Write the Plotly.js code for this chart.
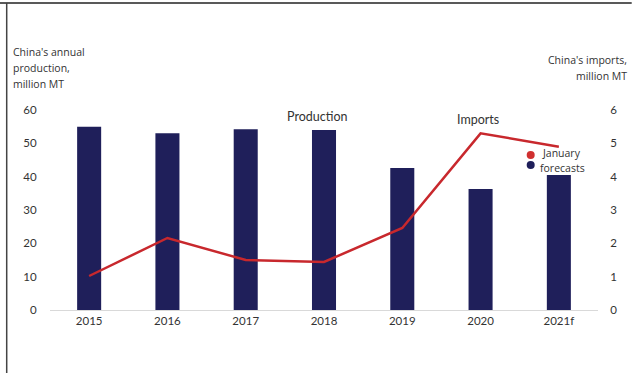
<!DOCTYPE html>
<html><head><meta charset="utf-8">
<script src="https://cdn.plot.ly/plotly-3.0.1.min.js"></script>
<style>html,body{margin:0;padding:0;background:#fff;}#chart{width:632px;height:373px;}</style>
</head><body><div id="chart"></div>
<script>
const years = ["2015","2016","2017","2018","2019","2020","2021f"];
const production = [55, 53, 54.2, 54, 42.6, 36.3, 40.5];
const imports = [1.02, 2.16, 1.5, 1.44, 2.46, 5.3, 4.9];
const leftTicks = [0,10,20,30,40,50,60];
const rightTicks = [0,1,2,3,4,5,6];
const leftTitle = ["China's annual", "production,", "million MT"];
const rightTitle = ["China's imports,", "million MT"];

const font = {family: "Lato, 'Open Sans', sans-serif", size: 11.5, color: "#333"};
const tfont = {family: "'Open Sans', sans-serif", size: 10.5, color: "#333"};
// plot area in pixels
const L = 50.3, R = 598.3, T = 110, B = 310;
const px = x => (x - L) / (R - L);
const py = y => (B - y) / (B - T);

const traces = [
  {type: "bar", x: years, y: production, marker: {color: "#1f1f5a"}, yaxis: "y", hoverinfo: "skip"},
  {type: "scatter", mode: "lines", x: years, y: imports, yaxis: "y2", line: {color: "#c8282d", width: 2.5}, hoverinfo: "skip"}
];

const annotations = [];
leftTitle.forEach((t, i) => annotations.push({text: t, xref: "paper", yref: "paper", x: px(11), y: py(52 + 16 * i),
  xanchor: "left", yanchor: "middle", showarrow: false, font: tfont}));
rightTitle.forEach((t, i) => annotations.push({text: t, xref: "paper", yref: "paper", x: px(629), y: py(60 + 16 * i),
  xanchor: "right", yanchor: "middle", showarrow: false, font: tfont}));
annotations.push(
  {text: "Production", xref: "paper", yref: "paper", x: px(317), y: py(116), xanchor: "center", yanchor: "middle",
   showarrow: false, font: {family: font.family, size: 12.5, color: "#333"}},
  {text: "Imports", xref: "paper", yref: "paper", x: px(478), y: py(119), xanchor: "center", yanchor: "middle",
   showarrow: false, font: {family: font.family, size: 12.5, color: "#333"}},
  {text: "January", xref: "paper", yref: "paper", x: px(540), y: py(153), xanchor: "left", yanchor: "middle",
   showarrow: false, font: tfont},
  {text: "forecasts", xref: "paper", yref: "paper", x: px(538), y: py(168), xanchor: "left", yanchor: "middle",
   showarrow: false, font: tfont}
);

const layout = {
  width: 632, height: 373,
  margin: {l: L, r: 632 - R, t: T, b: 373 - B, pad: 0},
  paper_bgcolor: "#fff", plot_bgcolor: "#fff",
  showlegend: false, bargap: 0.693,
  font: font,
  xaxis: {type: "category", showgrid: false, showline: true, linecolor: "#d9d9d9", linewidth: 1,
          ticks: "", tickfont: font, zeroline: false},
  yaxis: {range: [0, 60], tickvals: leftTicks, showgrid: false, showline: false, zeroline: false,
          ticks: "outside", ticklen: 10, tickcolor: "rgba(0,0,0,0)", tickfont: font},
  yaxis2: {range: [0, 6], tickvals: rightTicks, overlaying: "y", side: "right", showgrid: false,
           showline: false, zeroline: false, ticks: "outside", ticklen: 9, tickcolor: "rgba(0,0,0,0)", tickfont: font},
  annotations: annotations,
  shapes: [
    {type: "circle", xref: "paper", yref: "paper", x0: px(527), x1: px(535), y0: py(151), y1: py(159), fillcolor: "#d03030", line: {width: 0}},
    {type: "circle", xref: "paper", yref: "paper", x0: px(527), x1: px(535), y0: py(161), y1: py(169), fillcolor: "#1f1f5a", line: {width: 0}},
    {type: "line", xref: "paper", yref: "paper", x0: px(0), x1: px(632), y0: py(3), y1: py(3), line: {color: "#222", width: 1.5}},
    {type: "line", xref: "paper", yref: "paper", x0: px(7), x1: px(7), y0: py(3), y1: py(373), line: {color: "#444", width: 1.5}}
  ]
};
Plotly.newPlot("chart", traces, layout, {staticPlot: true, displayModeBar: false});
</script></body></html>
